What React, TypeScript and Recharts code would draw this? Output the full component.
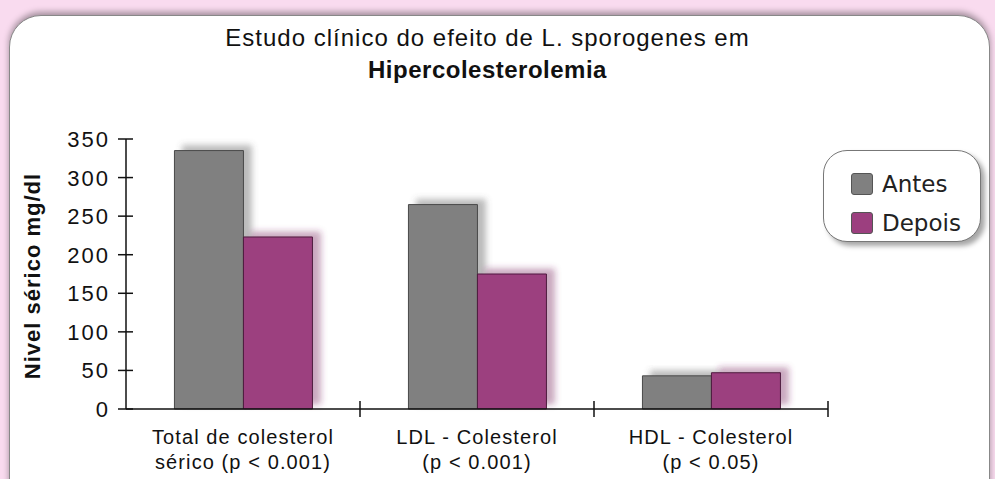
import React from 'react';
import { BarChart, Bar, XAxis, YAxis, Legend } from 'recharts';

const categories = ['Total de colesterol sérico', 'LDL - Colesterol', 'HDL - Colesterol'];
const labelLine1 = ['Total de colesterol', 'LDL - Colesterol', 'HDL - Colesterol'];
const labelLine2 = ['sérico (p < 0.001)', '(p < 0.001)', '(p < 0.05)'];
const antes = [335, 265, 43];
const depois = [223, 175, 47];
const yTicks = [0, 50, 100, 150, 200, 250, 300, 350];

const W = 995;
const H = 479;
const M = { top: 139, right: 167, left: 0, bottom: 0 };
const Y_W = 126;
const X_H = 70;
const BAND = (W - M.right - Y_W) / categories.length;

const GRAY = '#808080';
const MAG = '#9c3f7f';

const data = categories.map((c, i) => ({ name: c, antes: antes[i], depois: depois[i] }));

function YTick(props: any) {
  const { x, y, payload } = props;
  return (
    <g>
      <line x1={x - 8} x2={x + 7} y1={y} y2={y} stroke="#111" strokeWidth={1.5} />
      <text
        x={x - 16}
        y={y}
        dy={8}
        textAnchor="end"
        fontFamily="Liberation Sans"
        fontSize={22}
        letterSpacing={2}
        fill="#111"
      >
        {payload.value}
      </text>
    </g>
  );
}

function XTick(props: any) {
  const { x, y, index } = props;
  const t = { textAnchor: 'middle' as const, fontFamily: 'Liberation Sans', fontSize: 20, letterSpacing: 1.1, fill: '#111' };
  return (
    <g>
      <line x1={x + BAND / 2} x2={x + BAND / 2} y1={y - 8} y2={y + 8} stroke="#111" strokeWidth={1.5} />
      <text x={x} y={y + 35} {...t}>
        {labelLine1[index]}
      </text>
      <text x={x} y={y + 60} {...t}>
        {labelLine2[index]}
      </text>
    </g>
  );
}

function LegendBox(props: any) {
  const items = props.payload || [];
  return (
    <div
      style={{
        width: 158,
        height: 92,
        boxSizing: 'border-box',
        border: '1.5px solid #777',
        borderRadius: 24,
        background: '#fff',
        boxShadow: '4px 4px 5px rgba(0,0,0,0.35)',
        padding: '13px 0 0 27px',
      }}
    >
      {items.map((it: any) => (
        <div key={it.value} style={{ display: 'flex', alignItems: 'center', height: 39 }}>
          <span
            style={{
              display: 'inline-block',
              width: 20,
              height: 20,
              background: it.color,
              border: '1px solid #555',
              borderRadius: 3,
              marginRight: 9,
            }}
          />
          <span style={{ fontFamily: 'DejaVu Sans', fontSize: 23, color: '#222' }}>{it.value}</span>
        </div>
      ))}
    </div>
  );
}

export default function App() {
  return (
    <div style={{ position: 'absolute', left: 0, top: 0, width: W, height: H, background: '#f9dbef', overflow: 'hidden' }}>
      <div
        style={{
          position: 'absolute',
          left: 9,
          top: 15,
          width: 979,
          height: 520,
          background: '#fff',
          border: '1.5px solid #888',
          borderRadius: 32,
          boxShadow: '0 -3px 6px rgba(0,0,0,0.35)',
        }}
      />
      <div
        style={{
          position: 'absolute',
          left: 0,
          width: W - 20,
          top: 22,
          textAlign: 'center',
          fontFamily: 'Liberation Sans',
          fontSize: 24,
          letterSpacing: 1,
          lineHeight: '32px',
          color: '#111',
        }}
      >
        Estudo clínico do efeito de L. sporogenes em
        <br />
        <b style={{ letterSpacing: 0.5 }}>Hipercolesterolemia</b>
      </div>
      <div
        style={{
          position: 'absolute',
          left: 33,
          top: 276,
          transform: 'translate(-50%, -50%) rotate(-90deg)',
          whiteSpace: 'nowrap',
          fontFamily: 'Liberation Sans',
          fontWeight: 'bold',
          fontSize: 22,
          letterSpacing: 1,
          color: '#111',
        }}
      >
        Nivel sérico mg/dl
      </div>
      <div style={{ position: 'absolute', left: 0, top: 0 }}>
        <BarChart width={W} height={H} data={data} margin={M} barCategoryGap="20.7%" barGap={0}>
          <defs>
            <filter id="shGray" x="-30%" y="-30%" width="160%" height="160%">
              <feDropShadow dx={8} dy={-5} stdDeviation={3} floodColor="#555" floodOpacity={0.4} />
            </filter>
            <filter id="shMag" x="-30%" y="-30%" width="160%" height="160%">
              <feDropShadow dx={8} dy={-5} stdDeviation={3} floodColor="#7a2a60" floodOpacity={0.4} />
            </filter>
          </defs>
          <XAxis
            dataKey="name"
            height={X_H}
            interval={0}
            tickLine={false}
            tickSize={0}
            tickMargin={0}
            axisLine={{ stroke: '#111', strokeWidth: 1.5 }}
            tick={<XTick />}
          />
          <YAxis
            width={Y_W}
            domain={[0, 350]}
            ticks={yTicks}
            interval={0}
            tickLine={false}
            tickSize={0}
            tickMargin={0}
            axisLine={{ stroke: '#111', strokeWidth: 1.5 }}
            tick={<YTick />}
          />
          <Legend
            layout="horizontal"
            verticalAlign="middle"
            align="center"
            content={<LegendBox />}
            wrapperStyle={{ left: 823, top: 150, width: 160 }}
          />
          <Bar
            dataKey="antes"
            name="Antes"
            fill={GRAY}
            stroke="#4a4a4a"
            strokeWidth={1}
            filter="url(#shGray)"
            isAnimationActive={false}
          />
          <Bar
            dataKey="depois"
            name="Depois"
            fill={MAG}
            stroke="#4e1a3e"
            strokeWidth={1}
            filter="url(#shMag)"
            isAnimationActive={false}
          />
        </BarChart>
      </div>
    </div>
  );
}
